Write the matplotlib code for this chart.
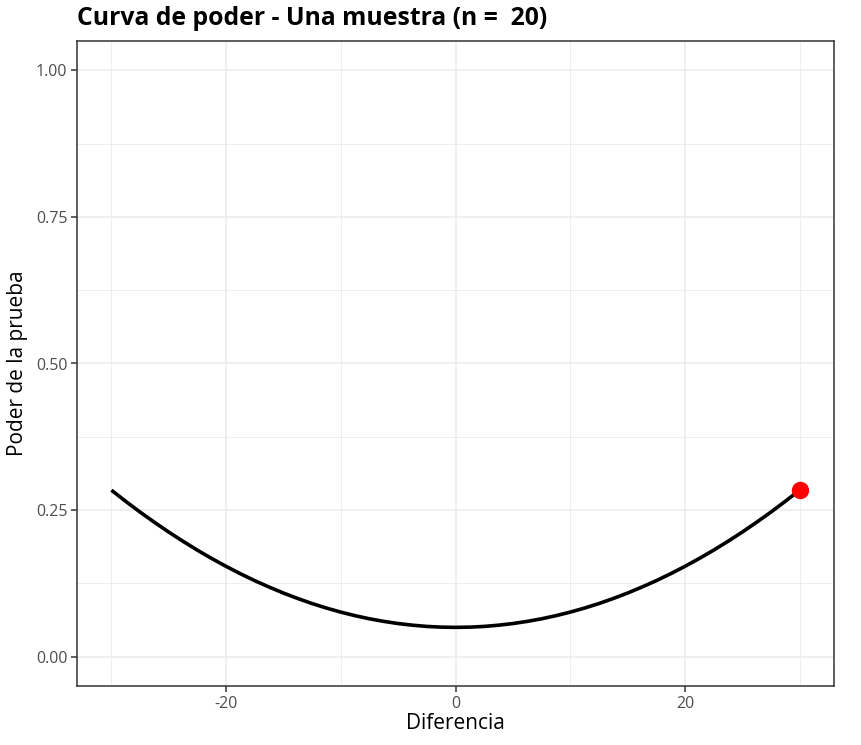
import numpy as np
import matplotlib.pyplot as plt
from matplotlib.ticker import MultipleLocator

plt.rcParams['font.family'] = ['Open Sans', 'DejaVu Sans']
plt.rcParams['axes.unicode_minus'] = False

# valores
diferencia = [-30, -28.75, -27.5, -26.25, -25, -23.75, -22.5, -21.25, -20, -18.75, -17.5, -16.25,
              -15, -13.75, -12.5, -11.25, -10, -8.75, -7.5, -6.25, -5, -3.75, -2.5, -1.25,
              0, 1.25, 2.5, 3.75, 5, 6.25, 7.5, 8.75, 10, 11.25, 12.5, 13.75,
              15, 16.25, 17.5, 18.75, 20, 21.25, 22.5, 23.75, 25, 26.25, 27.5, 28.75, 30]
poder = [0.2840, 0.2649, 0.2466, 0.2292, 0.2125, 0.1967, 0.1816, 0.1674, 0.1540, 0.1414,
         0.1296, 0.1187, 0.1085, 0.0992, 0.0906, 0.0829, 0.0760, 0.0699, 0.0646, 0.0602,
         0.0565, 0.0537, 0.0516, 0.0504, 0.0500, 0.0504, 0.0516, 0.0537, 0.0565, 0.0602,
         0.0646, 0.0699, 0.0760, 0.0829, 0.0906, 0.0992, 0.1085, 0.1187, 0.1296, 0.1414,
         0.1540, 0.1674, 0.1816, 0.1967, 0.2125, 0.2292, 0.2466, 0.2649, 0.2840]
punto_x = [30]
punto_y = [0.285]

fig = plt.figure(figsize=(8.61, 7.45), dpi=100)
ax = fig.add_axes([77/861, 1-686/745, (834-77)/861, (686-41)/745])

ax.plot(diferencia, poder, color='black', lw=2.6, solid_joinstyle='round',
        solid_capstyle='butt', zorder=3)
ax.plot(punto_x, punto_y, 'o', color='red', ms=11.5, zorder=4)

ax.set_xlim(-33, 33)
ax.set_ylim(-0.05, 1.05)
ax.xaxis.set_major_locator(MultipleLocator(20))
ax.xaxis.set_minor_locator(MultipleLocator(10))
ax.set_yticks([0, 0.25, 0.5, 0.75, 1.0])
ax.set_yticklabels(['0.00', '0.25', '0.50', '0.75', '1.00'])
ax.yaxis.set_minor_locator(MultipleLocator(0.125))

ax.grid(which='major', color='#EBEBEB', lw=1.1)
ax.grid(which='minor', color='#EBEBEB', lw=0.6)
ax.set_axisbelow(True)
ax.tick_params(which='major', length=4, width=1.1, color='#333333', labelcolor='#4D4D4D',
               labelsize=11.5, pad=3)
ax.tick_params(which='minor', length=0)
for s in ax.spines.values():
    s.set_color('#333333')
    s.set_linewidth(1.1)

ax.set_xlabel('Diferencia', fontsize=15)
ax.set_ylabel('Poder de la prueba', fontsize=15)
ax.xaxis.set_label_coords(0.5, (686-713)/645)
ax.yaxis.set_label_coords((28-77)/757, 0.5)
fig.text(77/861, 1-25/745, 'Curva de poder - Una muestra (n =  20)', fontsize=17.8,
         fontweight='bold', ha='left', va='baseline')

fig.savefig('out.png', dpi=100)
